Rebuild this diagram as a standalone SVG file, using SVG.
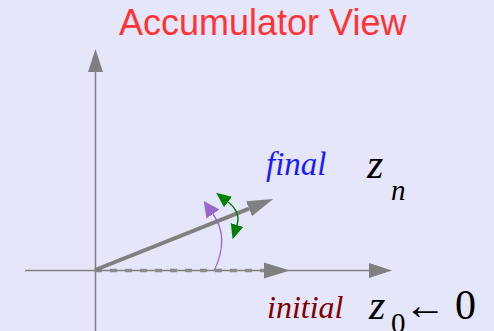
<svg xmlns="http://www.w3.org/2000/svg" width="494" height="331" viewBox="0 0 494 331">
<style>
.axis{stroke:#808080;stroke-width:1.5;fill:none}
.vec{stroke:#808080;stroke-width:4;fill:none}
.dash{stroke:#8a8a8a;stroke-width:3.5;fill:none;stroke-dasharray:7 8}
.m{font-family:"Liberation Serif","Times New Roman",serif;font-style:italic}
.r{font-family:"Liberation Serif","Times New Roman",serif}
</style>
<defs>
<marker id="ah" markerUnits="userSpaceOnUse" markerWidth="26" markerHeight="18" refX="0" refY="8" orient="auto" viewBox="0 0 26 16">
<path d="M0,0 L26,8 L0,16 Z" fill="#808080"/>
</marker>
<marker id="ahs" markerUnits="userSpaceOnUse" markerWidth="23" markerHeight="16" refX="0" refY="7.5" orient="auto" viewBox="0 0 23 15">
<path d="M0,0 L23,7.5 L0,15 Z" fill="#808080"/>
</marker>
<marker id="pa" markerUnits="userSpaceOnUse" markerWidth="16" markerHeight="18" refX="0" refY="8" orient="auto" viewBox="0 0 16 16">
<path d="M0,0 L16,8 L0,16 Z" fill="#9966cc"/>
</marker>
<marker id="ga" markerUnits="userSpaceOnUse" markerWidth="15" markerHeight="14" refX="0" refY="6.5" orient="auto-start-reverse" viewBox="0 0 15 13">
<path d="M0,0 L15,6.5 L0,13 Z" fill="#008000"/>
</marker>
</defs>
<rect width="494" height="331" fill="#e6e6fa"/>
<g id="title"><text x="119" y="35" font-family="Liberation Sans, Arial, sans-serif" font-size="36" fill="#ff3333">Accumulator View</text></g>
<g id="connectors">
<line class="axis" x1="95.5" y1="331" x2="95.5" y2="72" marker-end="url(#ahs)"/>
<line class="axis" x1="25" y1="270.5" x2="369" y2="270.5" marker-end="url(#ahs)"/>
<line class="dash" x1="95" y1="270.5" x2="264" y2="270.5" marker-end="url(#ah)"/>
<line class="vec" x1="95" y1="270" x2="249" y2="208.7" marker-end="url(#ah)"/>
<path d="M214,271 Q230,238 213,214" stroke="#9966cc" stroke-width="1.3" fill="none" marker-end="url(#pa)"/>
<path d="M228,202 Q241,212 237,225" stroke="#008000" stroke-width="1.5" fill="none" marker-start="url(#ga)" marker-end="url(#ga)"/>
</g>
<g id="final">
<text class="m" x="266" y="175" font-size="33" fill="#1a1aff">final</text>
<text class="m" x="367" y="178" font-size="42" fill="#000">z</text>
<text class="m" x="391" y="200" font-size="29" fill="#000">n</text>
</g>
<g id="initial">
<text class="m" x="267" y="318" font-size="32" fill="#800000">initial</text>
<text class="m" x="369" y="319" font-size="42" fill="#000">z</text>
<text class="r" x="391" y="333" font-size="29" fill="#000">0</text>
<text class="r" x="404" y="319" font-size="42" fill="#000">←</text>
<text class="r" x="455" y="319" font-size="42" fill="#000">0</text>
</g>
</svg>
